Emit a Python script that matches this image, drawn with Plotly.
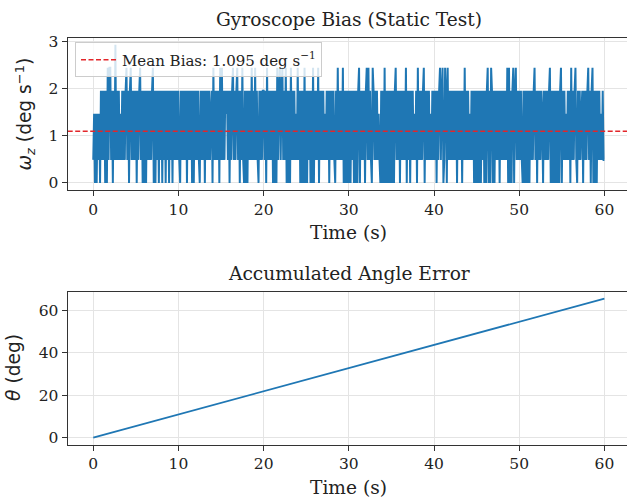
import plotly.graph_objects as go

# ---------------- data ----------------
LSB_DEG_S = 0.488          # gyro quantization step (deg/s per count)
MEAN_BIAS = 1.095          # deg/s
# gyro z counts sampled at 10 Hz, one string per second (read from the chart)
gyro_counts_by_second = [
    "1303031304", "1414040515", "5140416141", "4131414145", "1404514141",
    "4041451404", "0404141414", "5040414041", "4041404140", "4140414141",
    "4104141414", "0414140404", "1414104141", "4041414134", "0514141405",
    "1514143414", "0414514145", "1404151040", "4041415141", "5141041414",
    "4140514141", "4040405145", "1451415040", "4051414131", "5140404050",
    "4041404050", "4141504141", "4131414041", "4141041514", "1415040404",
    "0404140404", "0450414140", "4515141054", "1414131040", "4050404040",
    "4040451414", "0414141504", "1404141314", "0514141450", "4141413141",
    "4140414514", "5015405141", "4141414041", "4140415141", "4131414040",
    "4040404140", "4045040540", "4041414041", "4141415050", "4045045141",
    "4141040404", "0404141451", "4041414304", "1414145040", "4040404045",
    "0414131414", "0514145104", "1413404141", "4514045040", "4041413141",
]
gyro_last_count = 1
SAMPLE_DT = 0.1  # s

angle_time = [0, 10, 20, 30, 40, 50, 60]
angle_deg = [0, 10.95, 21.9, 32.85, 43.8, 54.75, 65.7]

x_ticks = [0, 10, 20, 30, 40, 50, 60]
top_y_ticks = [0, 1, 2, 3]
bot_y_ticks = [0, 20, 40, 60]

# ---------------- derived ----------------
gyro_counts = [int(c) for s in gyro_counts_by_second for c in s] + [gyro_last_count]
gyro_rate = [c * LSB_DEG_S for c in gyro_counts]
gyro_time = [i * SAMPLE_DT for i in range(len(gyro_counts))]

X_RANGE = [-3.0, 62.65]
W, H = 627, 504

def px(x):
    return x / W

def py(y):
    return 1 - y / H

BLUE = "#1f77b4"
RED = "#e3262a"
SPINE = "#333333"
GRID = "#e4e4e4"
SERIF = "DejaVu Serif"
TXT = "#222222"

fig = go.Figure()
fig.add_trace(go.Scatter(x=gyro_time, y=gyro_rate, mode="lines",
                         line=dict(color=BLUE, width=2.0, simplify=False),
                         showlegend=False, xaxis="x", yaxis="y"))
fig.add_trace(go.Scatter(x=X_RANGE, y=[MEAN_BIAS, MEAN_BIAS], mode="lines",
                         line=dict(color=RED, width=1.4, dash="5px,2.5px"),
                         name="Mean Bias: 1.095 deg s<sup>−1</sup>",
                         xaxis="x", yaxis="y"))
fig.add_trace(go.Scatter(x=angle_time, y=angle_deg, mode="lines",
                         line=dict(color=BLUE, width=1.8), showlegend=False,
                         xaxis="x2", yaxis="y2"))

axis_common = dict(showline=True, linecolor=SPINE, linewidth=1.3,
                   ticks="outside", ticklen=5, tickwidth=1.2, tickcolor=SPINE,
                   showgrid=True, gridcolor=GRID, gridwidth=1, zeroline=False,
                   tickfont=dict(family=SERIF, size=15.5, color=TXT))

top_dom = [py(187.4), py(33.3)]
bot_dom = [py(445.7), py(290.7)]
x_dom = [px(67.7), 1.0]

fig.update_layout(
    width=W, height=H,
    margin=dict(l=0, r=0, t=0, b=0),
    paper_bgcolor="white", plot_bgcolor="white",
    font=dict(family=SERIF, color=TXT),
    xaxis=dict(domain=x_dom, anchor="y", range=X_RANGE, tickvals=x_ticks,
               mirror=True, **axis_common),
    yaxis=dict(domain=top_dom, anchor="x", range=[-0.1465, 3.0765],
               tickvals=top_y_ticks, mirror=False, **axis_common),
    xaxis2=dict(domain=x_dom, anchor="y2", range=X_RANGE, tickvals=x_ticks,
                mirror=True, **axis_common),
    yaxis2=dict(domain=bot_dom, anchor="x2", range=[-3.285, 68.985],
                tickvals=bot_y_ticks, mirror=False, **axis_common),
    legend=dict(x=px(75), y=py(38), xanchor="left", yanchor="top",
                bgcolor="rgba(255,255,255,0.8)", bordercolor="#cccccc",
                borderwidth=1, font=dict(family=SERIF, size=15, color=TXT),
                itemwidth=36, tracegroupgap=0),
    showlegend=True,
)

annots = [
    dict(text="Gyroscope Bias (Static Test)", x=px(348.5), y=py(15), size=18.6, angle=0, fam=SERIF),
    dict(text="Time (s)", x=px(348.5), y=py(231), size=18.6, angle=0, fam=SERIF),
    dict(text="Accumulated Angle Error", x=px(348.5), y=py(272), size=18.6, angle=0, fam=SERIF),
    dict(text="Time (s)", x=px(348.5), y=py(489), size=18.6, angle=0, fam=SERIF),
    dict(text="<i>ω</i><sub><i>z</i></sub> (deg s<sup>−1</sup>)", x=px(25), y=py(111),
         size=18.6, angle=-90, fam="DejaVu Sans"),
    dict(text="<i>θ</i> (deg)", x=px(14), y=py(368), size=18.6, angle=-90, fam="DejaVu Sans"),
]
for a in annots:
    fig.add_annotation(text=a["text"], x=a["x"], y=a["y"], xref="paper", yref="paper",
                       xanchor="center", yanchor="middle", showarrow=False,
                       textangle=a["angle"],
                       font=dict(family=a["fam"], size=a["size"], color=TXT))

fig.write_html("out.html", config={"displayModeBar": False},
               post_script="document.body.style.margin='0';")
